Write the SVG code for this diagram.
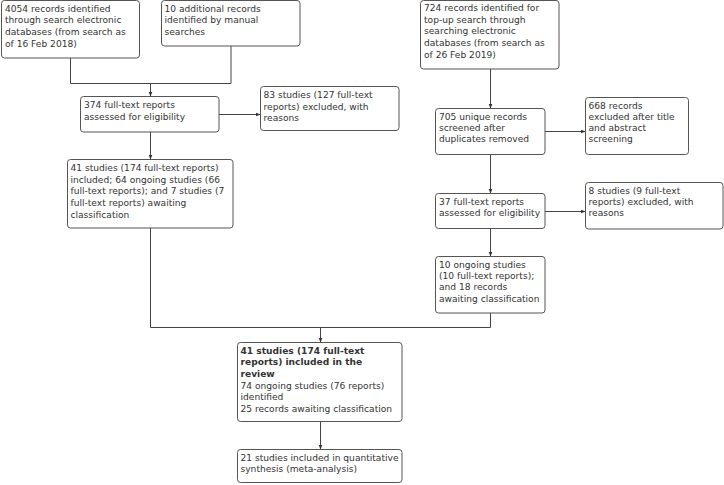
<svg xmlns="http://www.w3.org/2000/svg" width="724" height="485" viewBox="0 0 724 485">
<defs>
<style>
.box{fill:#fff;stroke:#555;stroke-width:1}
.t{font-family:"DejaVu Sans",Verdana,sans-serif;font-size:9.1px;fill:#333}
.b{font-weight:bold}
.c{fill:none;stroke:#444;stroke-width:1}
.a{fill:none;stroke:#444;stroke-width:1;marker-end:url(#ah)}
</style>
<marker id="ah" markerWidth="6" markerHeight="6" refX="5" refY="3" orient="auto" markerUnits="userSpaceOnUse">
<path d="M0,1 L5,3 L0,5 Z" fill="#333"/>
</marker>
</defs>
<rect width="724" height="485" fill="#fff"/>
<g id="connectors">
<path class="c" d="M70.5,58 V83.5 H231 M231,46 V83.5"/>
<path class="a" d="M150.5,83.5 V96.5"/>
<path class="a" d="M219,114.5 H260.5"/>
<path class="a" d="M150.5,132 V159.5"/>
<path class="c" d="M150.5,228 V327.5 H490.5 V313"/>
<path class="a" d="M320.5,327.5 V342.5"/>
<path class="a" d="M490.5,69 V108.5"/>
<path class="a" d="M545,131.5 H585.5"/>
<path class="a" d="M490.5,155 V193.5"/>
<path class="a" d="M545,211.5 H585.5"/>
<path class="a" d="M490.5,229 V256.5"/>
<path class="a" d="M320.5,422 V449.5"/>
</g>
<g id="n1"><rect class="box" x="1.5" y="0.5" width="138" height="57.5" rx="3"/>
<text class="t" x="5" y="11.5"><tspan x="5">4054 records identified</tspan><tspan x="5" dy="11.7">through search electronic</tspan><tspan x="5" dy="11.7">databases (from search as</tspan><tspan x="5" dy="11.7">of 16 Feb 2018)</tspan></text></g>
<g id="n2"><rect class="box" x="161.5" y="0.5" width="138.5" height="45.5" rx="3"/>
<text class="t" x="164.5" y="11.5"><tspan x="164.5">10 additional records</tspan><tspan x="164.5" dy="11.7">identified by manual</tspan><tspan x="164.5" dy="11.7">searches</tspan></text></g>
<g id="n3"><rect class="box" x="80.5" y="96.5" width="138.5" height="35.5" rx="3"/>
<text class="t" x="84" y="108"><tspan x="84">374 full-text reports</tspan><tspan x="84" dy="11.7">assessed for eligibility</tspan></text></g>
<g id="n4"><rect class="box" x="260.5" y="86.5" width="138.5" height="44" rx="3"/>
<text class="t" x="263.5" y="98"><tspan x="263.5">83 studies (127 full-text</tspan><tspan x="263.5" dy="11.7">reports) excluded, with</tspan><tspan x="263.5" dy="11.7">reasons</tspan></text></g>
<g id="n5"><rect class="box" x="67.5" y="159.5" width="165.5" height="68.5" rx="3"/>
<text class="t" x="70.5" y="171"><tspan x="70.5">41 studies (174 full-text reports)</tspan><tspan x="70.5" dy="11.7">included; 64 ongoing studies (66</tspan><tspan x="70.5" dy="11.7">full-text reports); and 7 studies (7</tspan><tspan x="70.5" dy="11.7">full-text reports) awaiting</tspan><tspan x="70.5" dy="11.7">classification</tspan></text></g>
<g id="n6"><rect class="box" x="420.5" y="0.5" width="138.5" height="68.5" rx="3"/>
<text class="t" x="424" y="11"><tspan x="424">724 records identified for</tspan><tspan x="424" dy="11.7">top-up search through</tspan><tspan x="424" dy="11.7">searching electronic</tspan><tspan x="424" dy="11.7">databases (from search as</tspan><tspan x="424" dy="11.7">of 26 Feb 2019)</tspan></text></g>
<g id="n7"><rect class="box" x="435.5" y="108.5" width="109.5" height="46" rx="3"/>
<text class="t" x="439" y="120"><tspan x="439">705 unique records</tspan><tspan x="439" dy="11.2">screened after</tspan><tspan x="439" dy="11.2">duplicates removed</tspan></text></g>
<g id="n8"><rect class="box" x="585.5" y="97.5" width="103" height="57" rx="3"/>
<text class="t" x="588.5" y="108.5"><tspan x="588.5">668 records</tspan><tspan x="588.5" dy="11.2">excluded after title</tspan><tspan x="588.5" dy="11.2">and abstract</tspan><tspan x="588.5" dy="11.2">screening</tspan></text></g>
<g id="n9"><rect class="box" x="435.5" y="193.5" width="109.5" height="35" rx="3"/>
<text class="t" x="439" y="205"><tspan x="439">37 full-text reports</tspan><tspan x="439" dy="11.2">assessed for eligibility</tspan></text></g>
<g id="n10"><rect class="box" x="585.5" y="182.5" width="137.5" height="46.5" rx="3"/>
<text class="t" x="588.5" y="194"><tspan x="588.5">8 studies (9 full-text</tspan><tspan x="588.5" dy="11.2">reports) excluded, with</tspan><tspan x="588.5" dy="11.2">reasons</tspan></text></g>
<g id="n11"><rect class="box" x="435.5" y="256.5" width="109.5" height="56.5" rx="3"/>
<text class="t" x="439" y="268"><tspan x="439">10 ongoing studies</tspan><tspan x="439" dy="11.2">(10 full-text reports);</tspan><tspan x="439" dy="11.2">and 18 records</tspan><tspan x="439" dy="11.2">awaiting classification</tspan></text></g>
<g id="n12"><rect class="box" x="237.5" y="342.5" width="164.5" height="79" rx="3"/>
<text class="t" x="240.5" y="353.5"><tspan x="240.5" class="b">41 studies (174 full-text</tspan><tspan x="240.5" dy="11.7" class="b">reports) included in the</tspan><tspan x="240.5" dy="11.7" class="b">review</tspan><tspan x="240.5" dy="11.7">74 ongoing studies (76 reports)</tspan><tspan x="240.5" dy="11.7">identified</tspan><tspan x="240.5" dy="11.7">25 records awaiting classification</tspan></text></g>
<g id="n13"><rect class="box" x="237.5" y="449.5" width="164.5" height="33" rx="3"/>
<text class="t" x="240.5" y="460.5"><tspan x="240.5">21 studies included in quantitative</tspan><tspan x="240.5" dy="11.7">synthesis (meta-analysis)</tspan></text></g>
</svg>
